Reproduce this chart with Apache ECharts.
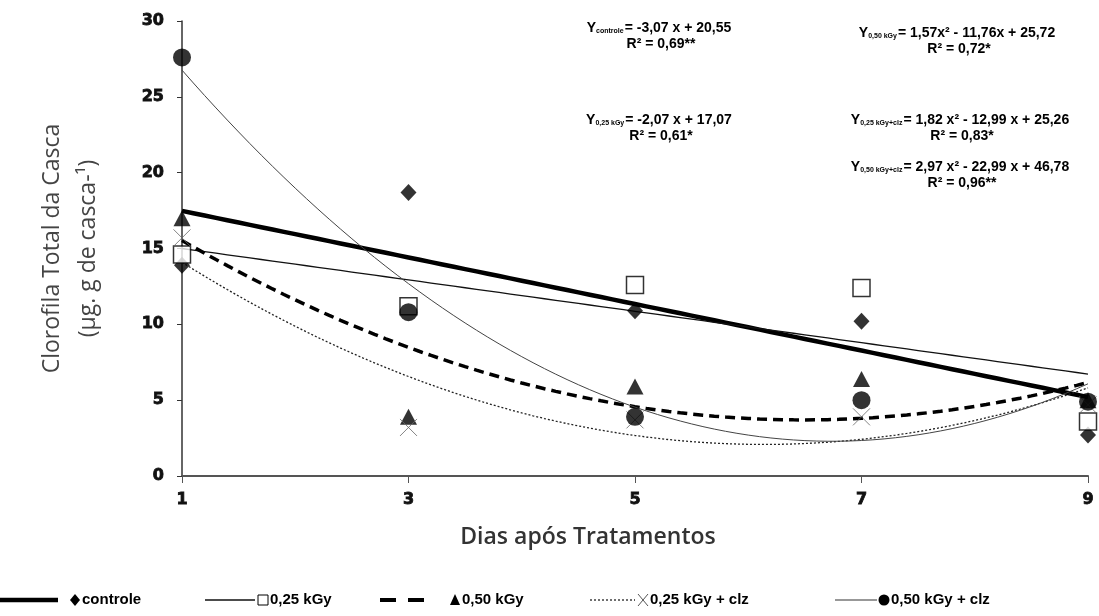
<!DOCTYPE html>
<html>
  <head>
    <meta charset="utf-8" />
    <title>Clorofila Total da Casca</title>
    <script src="https://cdn.jsdelivr.net/npm/echarts@6/dist/echarts.min.js"></script>
    <style>
      * { margin: 0; padding: 0; box-sizing: border-box; }
      body { background: #fff; }
    </style>
  </head>
  <body>
    <div id="main" style="width: 1099px; height: 616px"></div>
    <script type="text/javascript">
      // dias de avaliação
      const days = [1, 3, 5, 7, 9];
      const yTicks = [0, 5, 10, 15, 20, 25, 30];

      const controle = [13.9, 18.7, 10.9, 10.2, 2.7];
      const kgy025 = [14.6, 11.2, 12.6, 12.4, 3.6];
      const kgy050 = [17.0, 3.9, 5.9, 6.4, 5.0];
      const kgy025clz = [15.7, 3.2, 3.7, 3.9, 4.7];
      const kgy050clz = [27.6, 10.8, 3.9, 5.0, 4.9];

      // coeficientes das equações impressas [a0, a1, a2], x = índice 1..5
      const fitControle = [20.55, -3.07, 0];
      const fit025 = [17.07, -2.07, 0];
      const fit050 = [25.72, -11.76, 1.57];
      const fit025clz = [25.26, -12.99, 1.82];
      const fit050clz = [46.78, -22.99, 2.97];

      const names = ["controle", "0,25 kGy", "0,50 kGy", "0,25 kGy + clz", "0,50 kGy + clz"];

      const eqSubs = ["controle", "0,50 kGy", "0,25 kGy", "0,25 kGy+clz", "0,50 kGy+clz"];
      const eqBodies = [
        "= -3,07 x + 20,55",
        "= 1,57x² - 11,76x + 25,72",
        "= -2,07 x + 17,07",
        "= 1,82 x² - 12,99 x + 25,26",
        "= 2,97 x² - 22,99 x + 46,78",
      ];
      const eqR2 = ["R² = 0,69**", "R² = 0,72*", "R² = 0,61*", "R² = 0,83*", "R² = 0,96**"];

      function curve(c) {
        const pts = [];
        for (let k = 0; k <= 80; k++) {
          const d = 1 + k * 0.1;
          const i = (d + 1) / 2;
          pts.push([d, c[0] + c[1] * i + c[2] * i * i]);
        }
        return pts;
      }
      function pts(arr) {
        return days.map((d, k) => [d, arr[k]]);
      }

      var myChart = echarts.init(document.getElementById("main"));

      const narrow = "'Liberation Sans Narrow', 'Arial Narrow', 'Liberation Sans', sans-serif";
      const heavy = "'DejaVu Sans', sans-serif";
      const xPath = "path://M0,0L20,20M20,0L0,20";

      // equações (posição dos blocos)
      const eqPos = [
        [659, 28],
        [957, 33],
        [659, 120],
        [960, 120],
        [960, 167],
      ];
      const eqGraphics = [];
      eqPos.forEach((p, k) => {
        eqGraphics.push({
          type: "text",
          x: p[0],
          y: p[1],
          style: {
            text: "{y|Y}{s|" + eqSubs[k] + "}{t|" + eqBodies[k] + "}",
            align: "center",
            verticalAlign: "middle",
            rich: {
              y: { fontFamily: narrow, fontWeight: "bold", fontSize: 14, fill: "#000" },
              s: { fontFamily: narrow, fontWeight: "bold", fontSize: 7, fill: "#000", verticalAlign: "bottom", padding: [6, 1, 0, 0] },
              t: { fontFamily: narrow, fontWeight: "bold", fontSize: 14, fill: "#000" },
            },
          },
        });
        eqGraphics.push({
          type: "text",
          x: p[0] + 2,
          y: p[1] + 16,
          style: {
            text: eqR2[k],
            align: "center",
            verticalAlign: "middle",
            fontFamily: narrow,
            fontWeight: "bold",
            fontSize: 14,
            fill: "#000",
          },
        });
      });

      // legenda desenhada à mão
      const ly = 600;
      const legendText = (x, t) => ({
        type: "text",
        x: x,
        y: ly,
        style: { text: t, fontFamily: narrow, fontWeight: "bold", fontSize: 15, fill: "#000", verticalAlign: "middle" },
      });
      const legendGraphics = [
        { type: "line", shape: { x1: 0, y1: ly, x2: 58, y2: ly }, style: { stroke: "#000", lineWidth: 4.5 } },
        { type: "polygon", shape: { points: [[75, ly - 6], [80, ly], [75, ly + 6], [70, ly]] }, style: { fill: "#000" } },
        legendText(82, names[0]),
        { type: "line", shape: { x1: 205, y1: ly, x2: 255, y2: ly }, style: { stroke: "#111", lineWidth: 1.3 } },
        { type: "rect", shape: { x: 258, y: ly - 5, width: 10, height: 10 }, style: { fill: "#fff", stroke: "#000", lineWidth: 1 } },
        legendText(270, names[1]),
        { type: "line", shape: { x1: 380, y1: ly, x2: 425, y2: ly }, style: { stroke: "#000", lineWidth: 4, lineDash: [16, 12] } },
        { type: "polygon", shape: { points: [[455, ly - 6], [460, ly + 5], [450, ly + 5]] }, style: { fill: "#000" } },
        legendText(462, names[2]),
        { type: "line", shape: { x1: 590, y1: ly, x2: 635, y2: ly }, style: { stroke: "#222", lineWidth: 1.3, lineDash: [2, 2] } },
        { type: "polyline", shape: { points: [[638, ly - 6], [648, ly + 6]] }, style: { stroke: "#555", lineWidth: 1 } },
        { type: "polyline", shape: { points: [[648, ly - 6], [638, ly + 6]] }, style: { stroke: "#555", lineWidth: 1 } },
        legendText(650, names[3]),
        { type: "line", shape: { x1: 835, y1: ly, x2: 877, y2: ly }, style: { stroke: "#333", lineWidth: 1.2 } },
        { type: "circle", shape: { cx: 884, cy: ly, r: 5.5 }, style: { fill: "#000" } },
        legendText(891, names[4]),
        {
          type: "text",
          x: 588,
          y: 537,
          style: {
            text: "Dias após Tratamentos",
            align: "center",
            verticalAlign: "middle",
            fontFamily: "'Open Sans', sans-serif",
            fontWeight: 600,
            fontSize: 23,
            fill: "#333",
          },
        },
      ];

      const lineBase = { type: "line", showSymbol: false, silent: true, z: 2 };
      const tickLabel = {
        color: "#111",
        fontFamily: heavy,
        fontWeight: "bold",
        fontSize: 16,
        textBorderColor: "#111",
        textBorderWidth: 0.8,
      };

      var option = {
        animation: false,
        backgroundColor: "#fff",
        grid: { left: 182, right: 11, top: 21, bottom: 140 },
        xAxis: {
          type: "value",
          min: 1,
          max: 9,
          interval: 2,
          splitLine: { show: false },
          axisLine: { lineStyle: { color: "#555", width: 2 } },
          axisTick: { length: 7, lineStyle: { color: "#555", width: 1 } },
          axisLabel: Object.assign({ margin: 16 }, tickLabel),
        },
        yAxis: {
          type: "value",
          min: yTicks[0],
          max: yTicks[yTicks.length - 1],
          interval: 5,
          name: "Clorofila Total da Casca\n(µg. g de casca-¹)",
          nameLocation: "middle",
          nameRotate: 90,
          nameGap: 76,
          nameTextStyle: { fontFamily: "'Open Sans', sans-serif", fontSize: 23, color: "#444", lineHeight: 36 },
          splitLine: { show: false },
          axisLine: { show: true, lineStyle: { color: "#333", width: 1.5 } },
          axisTick: { show: true, length: 5, lineStyle: { color: "#333" } },
          axisLabel: Object.assign({ margin: 18 }, tickLabel),
        },
        graphic: eqGraphics.concat(legendGraphics),
        series: [
          Object.assign({}, lineBase, { name: names[0], data: curve(fitControle), lineStyle: { color: "#000", width: 4.5 } }),
          Object.assign({}, lineBase, { name: names[1], data: curve(fit025), lineStyle: { color: "#111", width: 1.3 } }),
          Object.assign({}, lineBase, { name: names[2], data: curve(fit050), lineStyle: { color: "#000", width: 3.5, type: [10, 6] } }),
          Object.assign({}, lineBase, { name: names[3], data: curve(fit025clz), lineStyle: { color: "#222", width: 1.3, type: [2, 2] } }),
          Object.assign({}, lineBase, { name: names[4], data: curve(fit050clz), lineStyle: { color: "#444", width: 1 } }),
          { type: "scatter", name: names[0], data: pts(controle), symbol: "diamond", symbolSize: [16, 17], itemStyle: { color: "#000" }, z: 3 },
          { type: "scatter", name: names[1], data: pts(kgy025), symbol: "rect", symbolSize: 17, itemStyle: { color: "#fff", borderColor: "#000", borderWidth: 1.5 }, z: 3 },
          { type: "scatter", name: names[2], data: pts(kgy050), symbol: "triangle", symbolSize: [17, 16], itemStyle: { color: "#000" }, z: 3 },
          { type: "scatter", name: names[3], data: pts(kgy025clz), symbol: xPath, symbolSize: 17, itemStyle: { color: "none", borderColor: "#666", borderWidth: 1 }, z: 3 },
          { type: "scatter", name: names[4], data: pts(kgy050clz), symbol: "circle", symbolSize: 18, itemStyle: { color: "#000" }, z: 3 },
        ],
      };

      myChart.setOption(option);
    </script>
  </body>
</html>
